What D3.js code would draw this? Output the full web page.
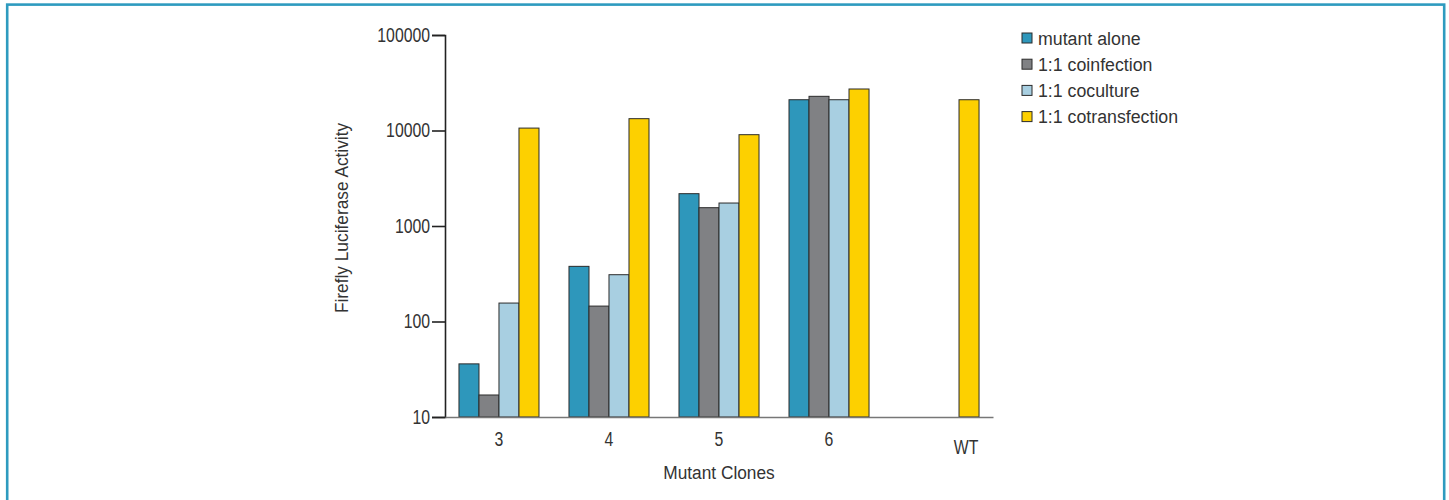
<!DOCTYPE html>
<html>
<head>
<meta charset="utf-8">
<script src="https://cdn.jsdelivr.net/npm/d3@7"></script>
<style>
  html, body { margin: 0; padding: 0; background: #fff; }
  svg { display: block; }
  text { font-family: "Liberation Sans", Arial, sans-serif; fill: #333; }
</style>
</head>
<body>
<svg id="chart" width="1449" height="500"></svg>
<script>
const categories = ["3", "4", "5", "6", "WT"];
const seriesNames = ["mutant alone", "1:1 coinfection", "1:1 coculture", "1:1 cotransfection"];
const mutantAlone   = [36, 378, 2180, 21000, null];
const coinfection   = [17, 145, 1555, 22800, null];
const coculture     = [156, 309, 1740, 21000, null];
const cotransfection= [10600, 13300, 9040, 27200, 21000];
const seriesValues = [mutantAlone, coinfection, coculture, cotransfection];
const seriesColors = ["#2e97bb", "#808184", "#a8cfe1", "#fdd000"];
const yTicks = [10, 100, 1000, 10000, 100000];
const yTitle = "Firefly Luciferase Activity";
const xTitle = "Mutant Clones";

const FONT = '"Liberation Sans", Arial, sans-serif';
const TICK_FS = 19.5, TICK_SX = 0.81;
const LAB_FS = 18.6, LAB_SX = 0.93;

const svg = d3.select("#chart");

// outer frame
svg.append("rect")
  .attr("x", 7.2).attr("y", 4.6)
  .attr("width", 1437).attr("height", 520)
  .attr("fill", "none").attr("stroke", "#2e9bbf").attr("stroke-width", 2.6);

const plotLeft = 445, plotRight = 993, plotTop = 35, plotBottom = 417;

const x0 = d3.scaleBand().domain(categories).range([plotLeft, plotRight])
  .paddingInner(30 / 110).paddingOuter(0.127);
const x1 = d3.scaleBand().domain(seriesNames).range([0, x0.bandwidth()]);
const y = d3.scaleLog().domain([10, 100000]).range([plotBottom, plotTop]);

// bars
const data = [];
categories.forEach((c, i) => {
  seriesNames.forEach((s, j) => {
    const v = seriesValues[j][i];
    if (v != null) data.push({ c, s, v, color: seriesColors[j] });
  });
});
svg.append("g").selectAll("rect").data(data).join("rect")
  .attr("x", d => x0(d.c) + x1(d.s))
  .attr("y", d => y(d.v))
  .attr("width", x1.bandwidth())
  .attr("height", d => y(10) - y(d.v))
  .attr("fill", d => d.color)
  .attr("stroke", "#2b2b2b")
  .attr("stroke-width", 1);

// y axis
const yAxis = d3.axisLeft(y).tickValues(yTicks).tickFormat(d3.format("d")).tickSize(13).tickPadding(2);
const gy = svg.append("g").attr("transform", `translate(${plotLeft},0)`).call(yAxis);
gy.select(".domain").attr("stroke", "#222").attr("stroke-width", 1.6);
gy.selectAll(".tick line").attr("stroke", "#222").attr("stroke-width", 1.6);
gy.selectAll(".tick text").attr("font-size", TICK_FS).attr("fill", "#333").style("font-family", FONT)
  .attr("x", -15 / TICK_SX).attr("transform", `scale(${TICK_SX},1)`);

// x axis
const xAxis = d3.axisBottom(x0).tickSize(0).tickPadding(15);
const gx = svg.append("g").attr("transform", `translate(0,${plotBottom})`).call(xAxis);
gx.select(".domain").attr("stroke", "#777").attr("stroke-width", 1.6);
gx.selectAll(".tick text").attr("font-size", TICK_FS).attr("fill", "#333").style("font-family", FONT)
  .attr("transform", `scale(${TICK_SX},1)`);
// WT label sits under its single bar and a little lower
gx.selectAll(".tick").filter(d => d === "WT")
  .attr("transform", `translate(${x0("WT") + x1(seriesNames[3]) + x1.bandwidth() / 2 - 3},0)`)
  .select("text").attr("dy", "1.15em");

// axis titles
svg.append("text")
  .attr("transform", `translate(${(plotLeft + plotRight) / 2},479) scale(${LAB_SX},1)`)
  .attr("text-anchor", "middle").attr("font-size", LAB_FS)
  .text(xTitle);
svg.append("text")
  .attr("transform", `translate(348,${(plotTop + plotBottom) / 2 - 8}) rotate(-90) scale(${LAB_SX},1)`)
  .attr("text-anchor", "middle").attr("font-size", LAB_FS)
  .text(yTitle);

// legend
const legend = svg.append("g").attr("transform", "translate(1022,38)");
const li = legend.selectAll("g").data(seriesNames).join("g")
  .attr("transform", (d, i) => `translate(0,${i * 26.2})`);
li.append("rect")
  .attr("x", 0).attr("y", -5).attr("width", 10).attr("height", 10)
  .attr("fill", (d, i) => seriesColors[i]).attr("stroke", "#2b2b2b").attr("stroke-width", 1);
li.append("text")
  .attr("transform", `translate(16,0) scale(0.955,1)`)
  .attr("dy", "0.36em")
  .attr("font-size", LAB_FS)
  .text(d => d);
</script>
</body>
</html>
